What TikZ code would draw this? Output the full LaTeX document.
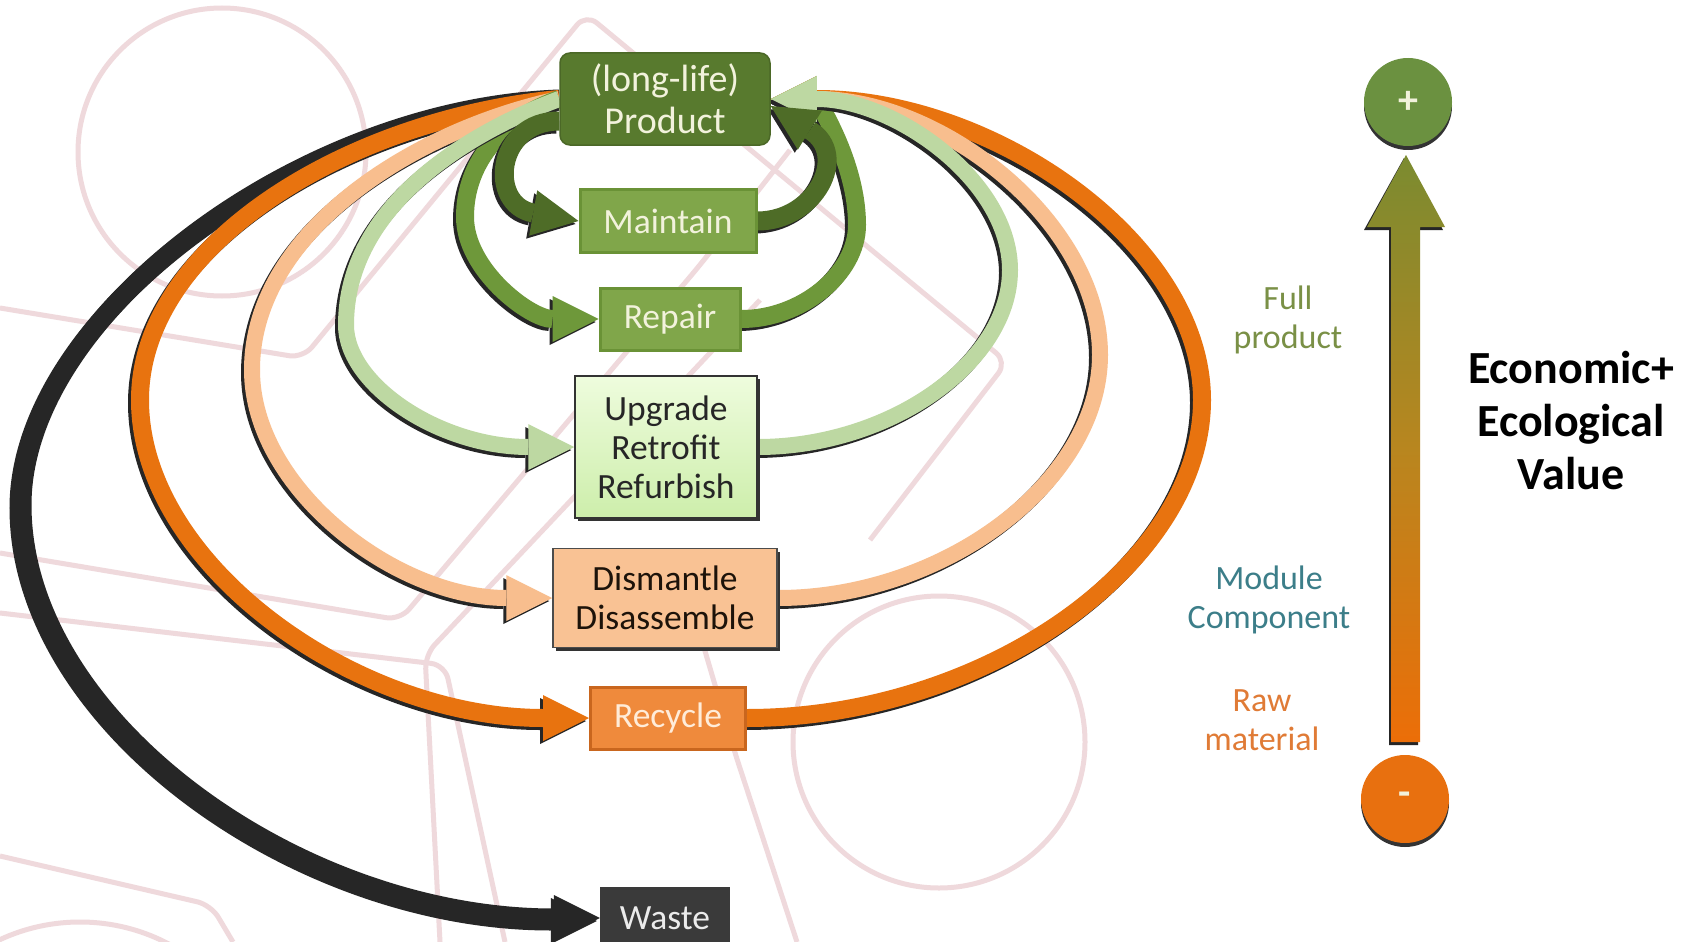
\documentclass[tikz,border=0pt]{standalone}
\usepackage{fontspec}
\setmainfont{Carlito}
\usetikzlibrary{arrows.meta,shadows}
\definecolor{prodG}{HTML}{587A2E}
\definecolor{maintG}{HTML}{80A64A}
\definecolor{maintB}{HTML}{6A9236}
\definecolor{upTop}{HTML}{EEFCDD}
\definecolor{upBot}{HTML}{CDEEAB}
\definecolor{disP}{HTML}{F9C294}
\definecolor{recO}{HTML}{EF8A3C}
\definecolor{recB}{HTML}{C9661E}
\definecolor{wasteK}{HTML}{3A3A3A}
\definecolor{arMaint}{HTML}{4E6C27}
\definecolor{arRep}{HTML}{6E983A}
\definecolor{arUp}{HTML}{BDD8A2}
\definecolor{arDis}{HTML}{F8BE8E}
\definecolor{arRec}{HTML}{E8730F}
\definecolor{arWaste}{HTML}{262626}
\definecolor{bgPink}{HTML}{EFD9DC}
\definecolor{lblFull}{HTML}{7A9046}
\definecolor{lblMod}{HTML}{3C7E89}
\definecolor{lblRaw}{HTML}{E07B36}
\definecolor{cream}{HTML}{F2F2DC}
\definecolor{plusG}{HTML}{6B9140}
\definecolor{minusO}{HTML}{E8700F}
\definecolor{axTop}{HTML}{7B8B30}
\definecolor{axMid}{HTML}{B8861F}
\definecolor{axBot}{HTML}{EC6E08}
\pgfdeclarelayer{bg}
\pgfdeclarelayer{arcs}
\pgfsetlayers{bg,arcs,main}
\newcommand{\myflow}[3]{%
  \draw[line width=#2, draw=black!85, -{Triangle[length=46pt,width=46pt,line width=0pt,fill=black!85]}, transform canvas={shift={(-3,3)}}] #3;
  \draw[line width=#2, draw=#1, -{Triangle[length=46pt,width=46pt,line width=0pt,fill=#1]}] #3;
}
\tikzset{
  box/.style={inner sep=0pt, align=center, font=\fontsize{35.5}{39}\selectfont},
  prodbox/.style={fill=prodG, draw=prodG!85!black, line width=1.5pt, rounded corners=10pt, minimum width=210pt, minimum height=92pt, text=cream, font=\fontsize{38}{42}\selectfont},
  greenbox/.style={fill=maintG, draw=maintB, line width=3pt, text=cream},
  upbox/.style={top color=upTop, bottom color=upBot, draw=black!80, line width=1.5pt, minimum width=182pt, minimum height=142pt, text=black!85,
     drop shadow={shadow xshift=3pt, shadow yshift=-3pt, fill=black!80, opacity=1}},
  disbox/.style={fill=disP, draw=black!70, line width=1.5pt, minimum width=224pt, minimum height=99pt, text=black!85!brown,
     drop shadow={shadow xshift=3pt, shadow yshift=-3pt, fill=black!80, opacity=1}},
  recbox/.style={fill=recO, draw=recB, line width=3pt, minimum width=155pt, minimum height=62pt, text=orange!15},
  wastebox/.style={fill=wasteK, minimum width=130pt, minimum height=62pt, text=black!8},
  lbl/.style={align=center, font=\fontsize{34}{39}\selectfont},
  bgline/.style={draw=bgPink, line width=5pt, rounded corners=14pt},
}
\begin{document}
\begin{tikzpicture}[x=1pt,y=-1pt]
\useasboundingbox (0,0) rectangle (1700,942);

% background watermark
\begin{pgfonlayer}{bg}
\fill[white] (0,0) rectangle (1700,942);
\draw[bgline] (222,152) circle[radius=144];
\draw[bgline] (939,742) circle[radius=146];
\draw[bgline] (80,1112) circle[radius=190];
\draw[bgline] (0,308) -- (303,358) -- (586,14) -- (1007,362) -- (870,540);
\draw[bgline] (0,553) -- (400,620) -- (700,265) -- (790,150);
\draw[bgline] (0,613) -- (445,665) -- (505,942);
\draw[bgline] (760,300) -- (425,655) -- (440,942);
\draw[bgline] (0,856) -- (211,905) -- (233,942);
\draw[bgline] (690,600) -- (735,753) -- (797,942);
\end{pgfonlayer}

% nodes
\node[box, prodbox] (prod) at (665,99) {(long-life)\\Product};
\node[box, greenbox, minimum width=176pt, minimum height=63pt] (maintain) at (668,221) {Maintain};
\node[box, greenbox, minimum width=140pt, minimum height=62pt] (repair) at (670,319) {Repair};
\node[box, upbox] (upgrade) at (666,447) {Upgrade\\Retrofit\\Refurbish};
\node[box, disbox] (dismantle) at (665,598) {Dismantle\\Disassemble};
\node[box, recbox] (recycle) at (668,718) {Recycle};
\node[box, wastebox] (waste) at (665,918) {Waste};

% flows
\begin{pgfonlayer}{arcs}
\myflow{arWaste}{19pt}{(prod.west) .. controls (300,108) and (22,315) .. (22,505) .. controls (22,720) and (299,918) .. (waste.west)}
\myflow{arRec}{18pt}{(prod.west) .. controls (350,118) and (140,244) .. (140,400) .. controls (140,565) and (356,718) .. (recycle.west)}
\myflow{arRec}{18pt}{(recycle.east) .. controls (983,718) and (1202,565) .. (1202,400) .. controls (1202,244) and (995,99) .. (prod.east)}
\myflow{arDis}{16pt}{(prod.west) .. controls (420,128) and (252,229) .. (252,370) .. controls (252,489) and (396,598) .. (dismantle.west)}
\myflow{arDis}{16pt}{(dismantle.east) .. controls (945,598) and (1100,481) .. (1100,355) .. controls (1100,222) and (942,99) .. (prod.east)}
\myflow{arRep}{18pt}{(prod.west) .. controls (505,118) and (465,160) .. (465,217) .. controls (465,270) and (530,319) .. (repair.west)}
\myflow{arRep}{18pt}{(repair.east) .. controls (801,319) and (857,274) .. (857,225) .. controls (857,160) and (815,99) .. (prod.east)}
\myflow{arUp}{16pt}{(prod.west) .. controls (470,132) and (346,205) .. (346,325) .. controls (346,385) and (440,447) .. (upgrade.west)}
\myflow{arUp}{16pt}{(upgrade.east) .. controls (889,447) and (1010,363) .. (1010,270) .. controls (1010,181) and (895,99) .. (prod.east)}
\myflow{arMaint}{19pt}{([yshift=-22pt]prod.west) .. controls (495,121) and (488,205) .. (maintain.west)}
\myflow{arMaint}{19pt}{(maintain.east) .. controls (815,221) and (850,155) .. ([yshift=-7pt]prod.east)}
\end{pgfonlayer}

% value axis
\fill[black!85] (1404,158) -- (1443,230) -- (1418,230) -- (1418,745) -- (1389,745) -- (1389,230) -- (1364,230) -- cycle;
\shade[top color=axTop, bottom color=axBot, middle color=axMid] (1406,155) -- (1445,227) -- (1420,227) -- (1420,742) -- (1391,742) -- (1391,227) -- (1367,227) -- cycle;
\node[circle, fill=plusG, minimum size=88pt, inner sep=0pt, text=cream, font=\bfseries\fontsize{40}{40}\selectfont,
  drop shadow={shadow xshift=0pt, shadow yshift=-4pt, fill=black!80, opacity=1}] (plus) at (1408,102) {+};
\node[circle, fill=minusO, minimum size=88pt, inner sep=0pt, text=cream, font=\bfseries\fontsize{40}{40}\selectfont,
  drop shadow={shadow xshift=0pt, shadow yshift=-4pt, fill=black!80, opacity=1}] (minus) at (1405,799) {-};

\node[lbl, text=lblFull] (full) at (1288,320) {Full\\product};
\node[lbl, text=lblMod] (module) at (1269,600) {Module\\Component};
\node[lbl, text=lblRaw] (raw) at (1262,720) {Raw\\material};
\node[align=center, font=\bfseries\fontsize{46}{53}\selectfont] (value) at (1571,421) {Economic+\\Ecological\\Value};
\end{tikzpicture}
\end{document}
